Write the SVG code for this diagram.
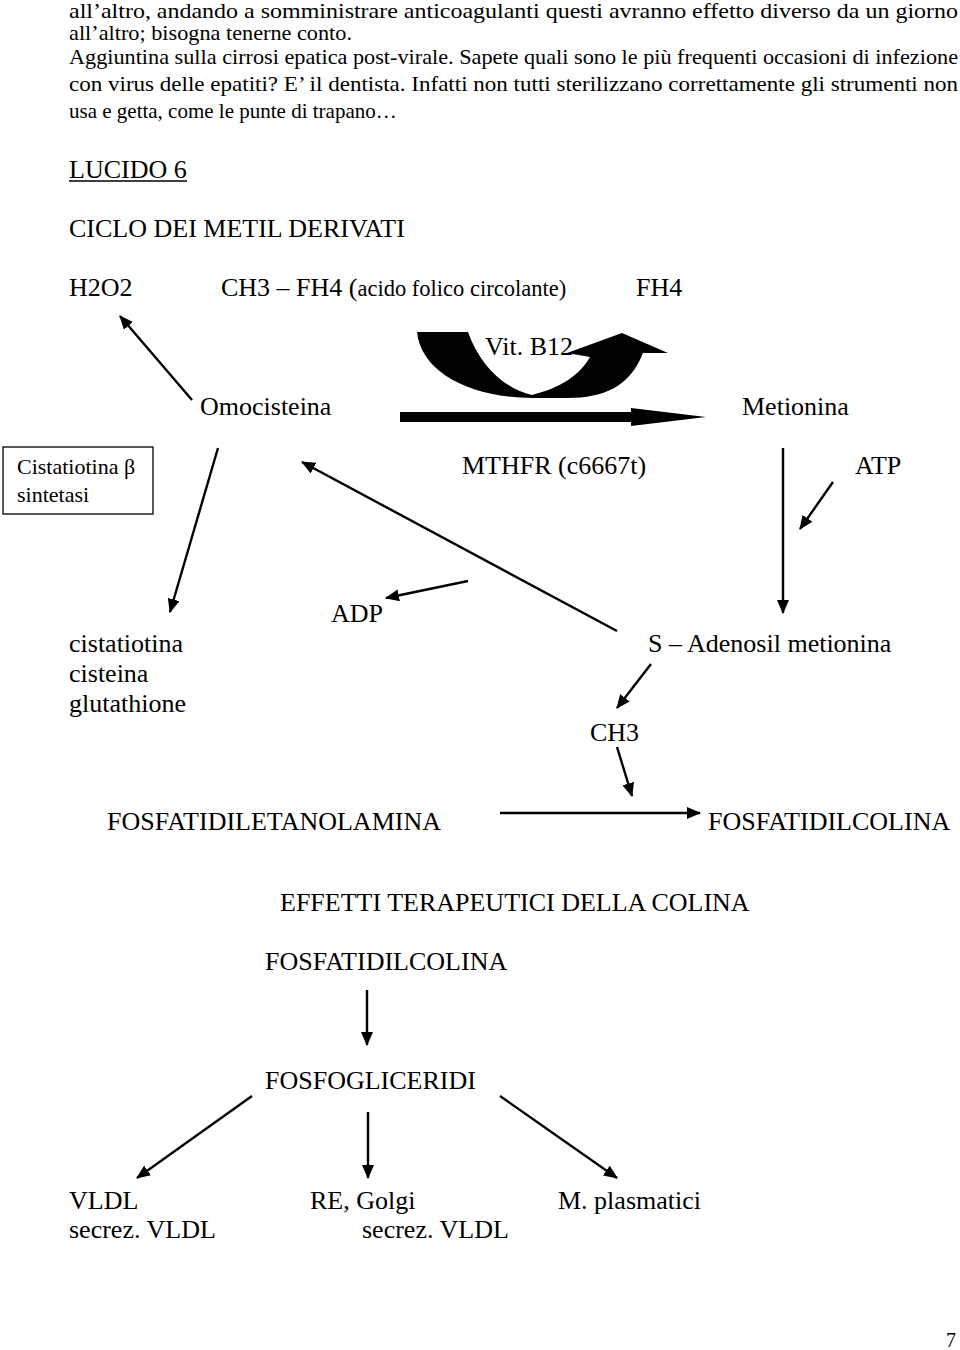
<svg xmlns="http://www.w3.org/2000/svg" width="960" height="1350" viewBox="0 0 960 1350">
<style>
text{font-family:"Liberation Serif","Times New Roman",serif;fill:#000}
.p{font-size:21px}
.d{font-size:26px}
.s{font-size:22.5px}
.ar{stroke:#000;stroke-width:2.4;fill:none;marker-end:url(#ah)}
</style>
<defs>
<marker id="ah" viewBox="0 0 14 12" refX="13" refY="6" markerWidth="14" markerHeight="12" markerUnits="userSpaceOnUse" orient="auto">
<path d="M0,0 L14,6 L0,12 Z" fill="#000"/>
</marker>
</defs>
<rect width="960" height="1350" fill="#fff"/>
<g id="paragraph">
<text class="p" x="69" y="18" textLength="889" lengthAdjust="spacingAndGlyphs">all’altro, andando a somministrare anticoagulanti questi avranno effetto diverso da un giorno</text>
<text class="p" x="69" y="40" textLength="283" lengthAdjust="spacingAndGlyphs">all’altro; bisogna tenerne conto.</text>
<text class="p" x="69" y="64" textLength="889" lengthAdjust="spacingAndGlyphs">Aggiuntina sulla cirrosi epatica post-virale. Sapete quali sono le più frequenti occasioni di infezione</text>
<text class="p" x="69" y="91" textLength="889" lengthAdjust="spacingAndGlyphs">con virus delle epatiti? E’ il dentista. Infatti non tutti sterilizzano correttamente gli strumenti non</text>
<text class="p" x="69" y="118">usa e getta, come le punte di trapano…</text>
</g>
<g id="title">
<text class="d" x="69" y="178">LUCIDO 6</text>
<line x1="69" y1="181" x2="187" y2="181" stroke="#000" stroke-width="1.3"/>
<text class="d" x="69" y="237">CICLO DEI METIL DERIVATI</text>
</g>
<g id="n-h2o2"><text class="d" x="69" y="296">H2O2</text></g>
<g id="n-ch3fh4"><text class="d" x="221" y="296">CH3 – FH4 (<tspan class="s">acido folico circolante)</tspan></text></g>
<g id="n-fh4"><text class="d" x="636" y="296">FH4</text></g>
<g id="n-vitb12"><text class="d" x="485" y="355">Vit. B12</text></g>
<g id="n-omocisteina"><text class="d" x="200" y="415">Omocisteina</text></g>
<g id="n-metionina"><text class="d" x="742" y="415">Metionina</text></g>
<g id="n-cbs">
<rect x="3" y="447" width="150" height="67" fill="none" stroke="#000" stroke-width="1.3"/>
<text x="17" y="474" style="font-size:22px">Cistatiotina β</text>
<text x="17" y="502" style="font-size:22px">sintetasi</text>
</g>
<g id="n-mthfr"><text class="d" x="462" y="474">MTHFR (c6667t)</text></g>
<g id="n-atp"><text class="d" x="855" y="474">ATP</text></g>
<g id="n-adp"><text class="d" x="331" y="622">ADP</text></g>
<g id="n-cist">
<text class="d" x="69" y="652">cistatiotina</text>
<text class="d" x="69" y="682">cisteina</text>
<text class="d" x="69" y="712">glutathione</text>
</g>
<g id="n-sam"><text class="d" x="648" y="652">S – Adenosil metionina</text></g>
<g id="n-ch3"><text class="d" x="590" y="741">CH3</text></g>
<g id="n-fe"><text class="d" x="107" y="830">FOSFATIDILETANOLAMINA</text></g>
<g id="n-fc"><text class="d" x="708" y="830">FOSFATIDILCOLINA</text></g>
<g id="n-effetti"><text class="d" x="280" y="911">EFFETTI TERAPEUTICI DELLA COLINA</text></g>
<g id="n-fc2"><text class="d" x="265" y="970">FOSFATIDILCOLINA</text></g>
<g id="n-fg"><text class="d" x="265" y="1089">FOSFOGLICERIDI</text></g>
<g id="n-vldl">
<text class="d" x="69" y="1209">VLDL</text>
<text class="d" x="69" y="1238">secrez. VLDL</text>
</g>
<g id="n-re">
<text class="d" x="310" y="1209">RE, Golgi</text>
<text class="d" x="362" y="1238">secrez. VLDL</text>
</g>
<g id="n-mp"><text class="d" x="558" y="1209">M. plasmatici</text></g>
<g id="pagenum"><text x="946" y="1347" style="font-size:20px">7</text></g>
<g id="connectors">
<path d="M417,332 L468,332 C480,366 505,389 532,395 C560,388 580,375 590,357 L567,353 L622,333 L668,353 L643,353 C630,386 605,398 567,398 L533,398 C470,398 421,372 417,332 Z" fill="#000"/>
<path d="M400,412 L631,412 L631,408 L706,417 L631,426 L631,422 L400,422 Z" fill="#000"/>
<line class="ar" x1="192" y1="400" x2="120" y2="316"/>
<line class="ar" x1="218" y1="448" x2="170" y2="612"/>
<line class="ar" x1="617" y1="631" x2="302" y2="462"/>
<line class="ar" x1="468" y1="581" x2="386" y2="598"/>
<line class="ar" x1="783" y1="448" x2="783" y2="613"/>
<line class="ar" x1="833" y1="482" x2="800" y2="529"/>
<line class="ar" x1="651" y1="664" x2="617" y2="708"/>
<line class="ar" x1="617" y1="747" x2="632" y2="796"/>
<line class="ar" x1="500" y1="813" x2="700" y2="813"/>
<line class="ar" x1="367" y1="990" x2="367" y2="1045"/>
<line class="ar" x1="368" y1="1112" x2="368" y2="1178"/>
<line class="ar" x1="500" y1="1096" x2="617" y2="1178"/>
<line class="ar" x1="252" y1="1096" x2="137" y2="1178"/>
</g>
</svg>
